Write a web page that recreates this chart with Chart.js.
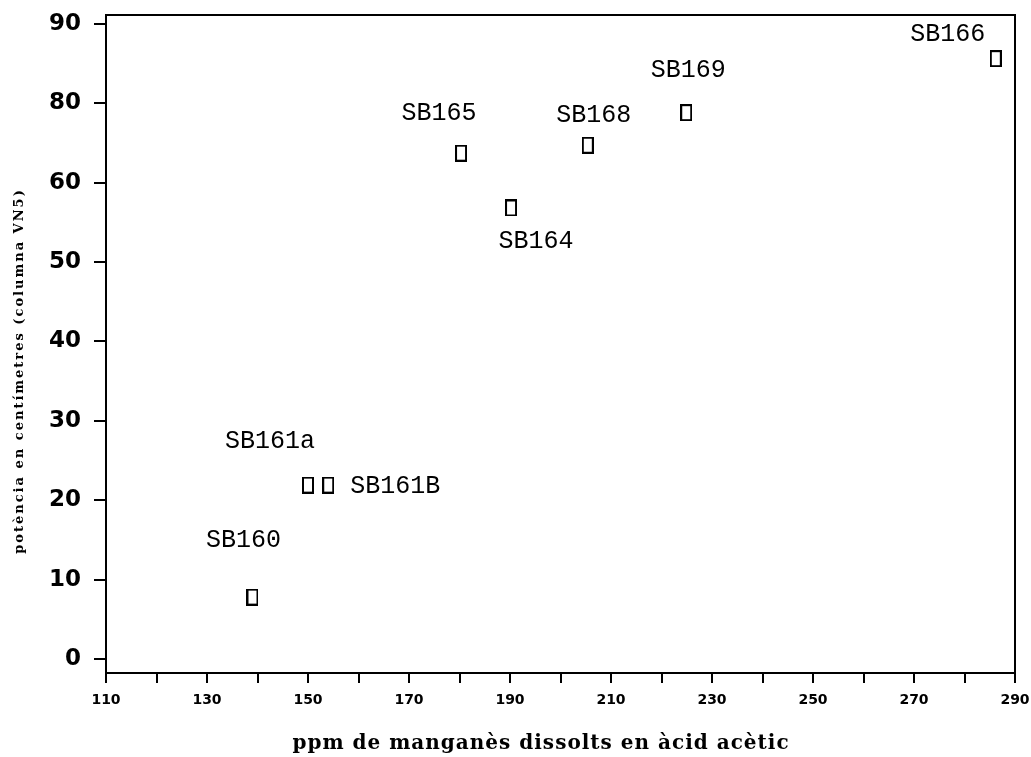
<!DOCTYPE html>
<html>
<head>
<meta charset="utf-8">
<script src="https://cdn.jsdelivr.net/npm/chart.js@4"></script>
<style>
  html, body { margin: 0; padding: 0; background: #fff; }
  #wrap { width: 1031px; height: 757px; }
</style>
</head>
<body>
<div id="wrap"><canvas id="myChart" width="1031" height="757"></canvas></div>
<script>
// sample names and values
const samples = ['SB160', 'SB161a', 'SB161B', 'SB165', 'SB164', 'SB168', 'SB169', 'SB166'];
const manganese = [139, 150, 154, 180.3, 190.2, 205.4, 224.9, 286.2];   // ppm
const potencia = [7.8, 21.9, 21.9, 63.7, 56.8, 64.7, 68.8, 75.6];      // cm

const xTickValues = [110, 120, 130, 140, 150, 160, 170, 180, 190, 200, 210, 220, 230, 240, 250, 260, 270, 280, 290];
const xTickLabels = ['110', '', '130', '', '150', '', '170', '', '190', '', '210', '', '230', '', '250', '', '270', '', '290'];
const yTickValues = [0, 10, 20, 30, 40, 50, 60, 70, 80];
const yTickLabels = ['0', '10', '20', '30', '40', '50', '60', '80', '90'];   // as printed on the original

const xTitle = 'ppm de manganès dissolts en àcid acètic';
const yTitle = 'potència en centímetres (columna VN5)';

// where each name sits relative to its marker (px)
const labelOffsets = [[-9, -57], [-38, -44], [67, 1], [-22, -40], [25, 33], [6, -30], [2, -42], [-48, -24]];

// hollow tall rectangle marker
const marker = document.createElement('canvas');
marker.width = 12;
marker.height = 17;
const mctx = marker.getContext('2d');
mctx.strokeStyle = '#000';
mctx.lineWidth = 2;
mctx.strokeRect(1, 1, 10, 15);

const points = manganese.map((x, i) => ({ x: x, y: potencia[i] }));

// frame round the plot, sample names, axis titles
const framePlugin = {
    id: 'framePlugin',
    afterDatasetsDraw(chart) {
        const { ctx, chartArea: { top, right, bottom, left }, scales: { x, y } } = chart;
        ctx.save();
        ctx.strokeStyle = '#000';
        ctx.lineWidth = 2;
        ctx.beginPath();
        ctx.moveTo(left, top);
        ctx.lineTo(right, top);
        ctx.lineTo(right, bottom);
        ctx.stroke();

        ctx.fillStyle = '#000';
        ctx.font = '25px "Liberation Mono", monospace';
        ctx.textAlign = 'center';
        ctx.textBaseline = 'middle';
        samples.forEach((name, i) => {
            const px = x.getPixelForValue(manganese[i]) + labelOffsets[i][0];
            const py = y.getPixelForValue(potencia[i]) + labelOffsets[i][1];
            ctx.fillText(name, px, py);
        });

        // axis titles (letter spaced like the typewriter original)
        ctx.font = 'bold 20px "DejaVu Serif", serif';
        ctx.letterSpacing = '1px';
        ctx.fillText(xTitle, 541, 744);

        ctx.translate(20, 371);
        ctx.rotate(-Math.PI / 2);
        ctx.font = 'bold 13px "DejaVu Serif", serif';
        ctx.letterSpacing = '2px';
        ctx.fillText(yTitle, 0, 0);
        ctx.restore();
    }
};

const config = {
    type: 'scatter',
    data: {
        datasets: [{
            label: 'mostres',
            data: points,
            pointStyle: marker,
            pointRadius: 8,
            pointHoverRadius: 8
        }]
    },
    options: {
        responsive: false,
        animation: false,
        events: [],
        layout: { padding: { top: 15, right: 16, left: 0, bottom: 0 } },
        plugins: {
            legend: { display: false },
            tooltip: { enabled: false }
        },
        scales: {
            x: {
                type: 'linear',
                min: 110,
                max: 290,
                afterBuildTicks: (axis) => { axis.ticks = xTickValues.map(v => ({ value: v })); },
                afterFit: (axis) => { axis.height = 84; axis.paddingLeft = 0; axis.paddingRight = 0; },
                border: { display: true, color: '#000', width: 2 },
                grid: { drawOnChartArea: false, drawTicks: true, tickLength: 10, color: '#000', lineWidth: 2 },
                ticks: {
                    autoSkip: false,
                    maxRotation: 0,
                    padding: 9,
                    color: '#000',
                    font: { family: '"DejaVu Sans", sans-serif', size: 14, weight: 'bold' },
                    callback: (value, index) => xTickLabels[index]
                }
            },
            y: {
                type: 'linear',
                min: -1.76,
                max: 81.1,
                afterBuildTicks: (axis) => { axis.ticks = yTickValues.map(v => ({ value: v })); },
                afterFit: (axis) => { axis.width = 106; axis.paddingTop = 0; axis.paddingBottom = 0; },
                border: { display: true, color: '#000', width: 2 },
                grid: { drawOnChartArea: false, drawTicks: true, tickLength: 12, color: '#000', lineWidth: 2 },
                ticks: {
                    autoSkip: false,
                    padding: 13,
                    color: '#000',
                    font: { family: '"DejaVu Sans", sans-serif', size: 23, weight: 'bold' },
                    callback: (value, index) => yTickLabels[index]
                }
            }
        }
    },
    plugins: [framePlugin]
};

const myChart = new Chart(document.getElementById('myChart'), config);
</script>
</body>
</html>
